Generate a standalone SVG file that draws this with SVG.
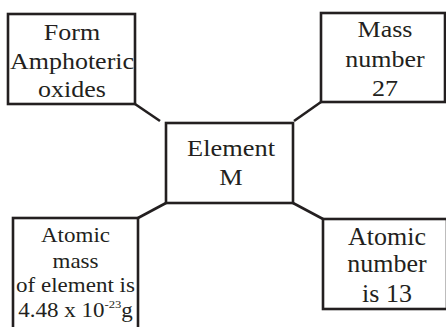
<svg xmlns="http://www.w3.org/2000/svg" width="446" height="327" viewBox="0 0 446 327">
<style>
.box{fill:#fff;stroke:#231f20;stroke-width:2.6}
.ln{stroke:#231f20;stroke-width:2.6;fill:none}
text{font-family:"Liberation Serif","Times New Roman",serif;fill:#231f20;text-anchor:middle}
.t{font-size:23px}
.s{font-size:20px}
.c{font-size:24px}
.r{font-size:24.5px}
</style>
<rect width="446" height="327" fill="#fff"/>
<g id="connectors">
<line class="ln" x1="135" y1="104" x2="160" y2="121"/>
<line class="ln" x1="321" y1="102" x2="294" y2="121"/>
<line class="ln" x1="166" y1="203" x2="138" y2="218"/>
<line class="ln" x1="293" y1="203" x2="323" y2="219"/>
</g>
<g id="amphoteric">
<rect class="box" x="8" y="14" width="127" height="90"/>
<text class="t" transform="matrix(1.13 0 0 1 72 40)">Form</text>
<text class="t" transform="matrix(1.13 0 0 1 72 69)">Amphoteric</text>
<text class="t" transform="matrix(1.13 0 0 1 72 97)">oxides</text>
</g>
<g id="mass-number">
<rect class="box" x="321" y="13" width="124" height="89"/>
<text class="t" transform="matrix(1.13 0 0 1 385 37)">Mass</text>
<text class="t" transform="matrix(1.13 0 0 1 385 67)">number</text>
<text class="t" transform="matrix(1.13 0 0 1 385 96)">27</text>
</g>
<g id="element">
<rect class="box" x="166" y="123" width="127" height="80"/>
<text class="c" transform="matrix(1.1 0 0 1 231 156)">Element</text>
<text class="c" transform="matrix(1.1 0 0 1 231 185)">M</text>
</g>
<g id="atomic-mass">
<rect class="box" x="13" y="218" width="125" height="120"/>
<text class="s" transform="matrix(1.15 0 0 1 75.5 242)">Atomic</text>
<text class="s" transform="matrix(1.15 0 0 1 75.5 268)">mass</text>
<text class="s" transform="matrix(1.15 0 0 1 75.5 292)">of element is</text>
<text class="s" transform="matrix(1.15 0 0 1 75.5 317)">4.48 x 10<tspan font-size="11" dy="-9">-23</tspan><tspan dy="9">g</tspan></text>
</g>
<g id="atomic-number">
<rect class="box" x="323" y="219" width="124" height="90"/>
<text class="r" transform="matrix(1.06 0 0 1 387 245)">Atomic</text>
<text class="r" transform="matrix(1.06 0 0 1 387 272)">number</text>
<text class="r" transform="matrix(1.06 0 0 1 387 302)">is 13</text>
</g>
</svg>
